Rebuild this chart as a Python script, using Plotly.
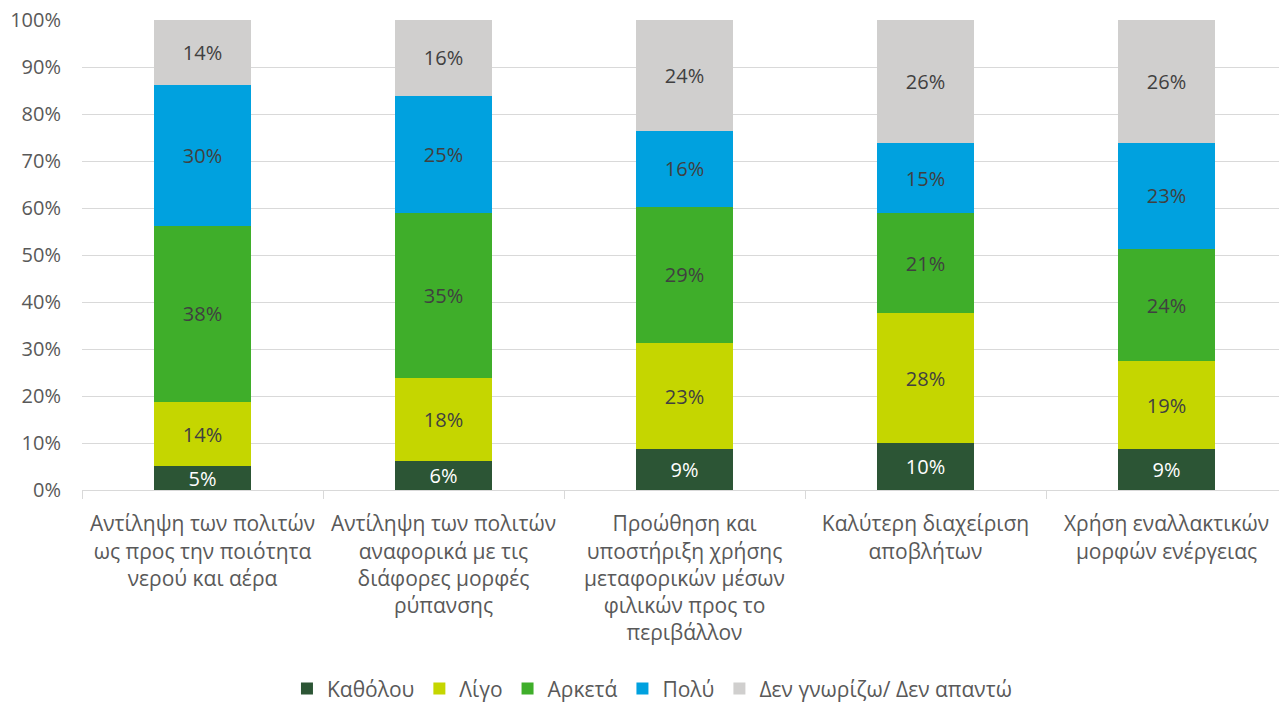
import plotly.graph_objects as go

categories = [
    "Αντίληψη των πολιτών<br>ως προς την ποιότητα<br>νερού και αέρα",
    "Αντίληψη των πολιτών<br>αναφορικά με τις<br>διάφορες μορφές<br>ρύπανσης",
    "Προώθηση και<br>υποστήριξη χρήσης<br>μεταφορικών μέσων<br>φιλικών προς το<br>περιβάλλον",
    "Καλύτερη διαχείριση<br>αποβλήτων",
    "Χρήση εναλλακτικών<br>μορφών ενέργειας",
]
series_names = ["Καθόλου", "Λίγο", "Αρκετά", "Πολύ", "Δεν γνωρίζω/ Δεν απαντώ"]
katholou = [5.1, 6.2, 8.7, 10.0, 8.7]
ligo = [13.6, 17.6, 22.6, 27.6, 18.7]
arketa = [37.5, 35.2, 28.9, 21.3, 23.9]
poly = [30.0, 24.9, 16.2, 14.9, 22.6]
dengnorizo = [13.8, 16.1, 23.6, 26.2, 26.1]
yticks = [0, 10, 20, 30, 40, 50, 60, 70, 80, 90, 100]

colors = ["#2C5535", "#C5D600", "#3FAE2A", "#00A1DF", "#D0CFCE"]
label_colors = ["#FFFFFF", "#404040", "#404040", "#404040", "#404040"]
FONT = "Open Sans"

fig = go.Figure()
for name, vals, col, lc in zip(series_names, [katholou, ligo, arketa, poly, dengnorizo], colors, label_colors):
    fig.add_trace(go.Bar(
        x=categories, y=vals, name=name,
        marker=dict(color=col, line=dict(width=0)),
        text=[f"{v:.0f}%" for v in vals],
        textposition="inside", insidetextanchor="middle",
        textfont=dict(family=FONT, size=20, color=lc),
        constraintext="none",
    ))

fig.update_layout(
    barmode="stack", bargap=0.6,
    width=1287, height=702,
    margin=dict(l=74, r=8, t=12, b=220),
    plot_bgcolor="white", paper_bgcolor="white",
    font=dict(family=FONT, size=20, color="#595959"),
    uniformtext=dict(mode=False),
    legend=dict(orientation="h", x=0.473, xanchor="center",
                yref="container", y=0.03, yanchor="middle",
                font=dict(family=FONT, size=21, color="#595959"),
                itemwidth=30, tracegroupgap=0, traceorder="normal"),
    showlegend=True,
)
fig.update_xaxes(
    tickson="boundaries", ticks="outside", ticklen=8, tickcolor="#D9D9D9",
    showline=True, linecolor="#D9D9D9", linewidth=1,
    tickfont=dict(family=FONT, size=21, color="#595959"),
    ticklabelstandoff=15, ticklabeloverflow="allow",
    showgrid=False, automargin=False,
)
fig.update_yaxes(
    range=[0, 100], tickvals=yticks, ticktext=[f"{t}%" for t in yticks],
    showgrid=True, gridcolor="#D9D9D9", gridwidth=1,
    zeroline=False, showline=False,
    tickfont=dict(family=FONT, size=20, color="#595959"),
    ticks="", ticklabelstandoff=20, ticklabeloverflow="allow", automargin=False,
)
fig.write_html("out.html")
